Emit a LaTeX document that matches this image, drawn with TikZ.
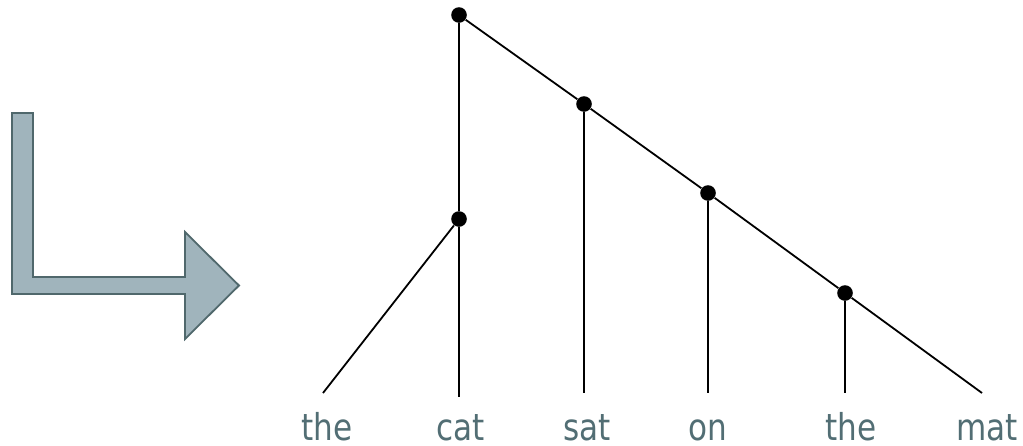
\documentclass[tikz,border=0pt]{standalone}
\usepackage{fontspec}
\setmainfont{DejaVu Sans}[FakeStretch=0.84]
\definecolor{wordcol}{RGB}{82,110,116}
\definecolor{arrowfill}{RGB}{160,180,188}
\definecolor{arrowline}{RGB}{80,104,108}
\tikzset{
  dot/.style={circle, fill=black, inner sep=0pt, minimum size=7.8pt},
  word/.style={anchor=base, text=wordcol, font=\fontsize{18.5}{20}\selectfont, inner sep=0pt},
  branch/.style={line width=0.9pt}
}
\begin{document}
\begin{tikzpicture}[x=0.5pt,y=-0.5pt]
    \useasboundingbox (0,0) rectangle (1023,445);
    \draw[fill=arrowfill, draw=arrowline, line width=0.9pt] (12,113) -- (33,113) -- (33,277) -- (185,277) -- (185,232)
        -- (239,285.5) -- (185,339) -- (185,294) -- (12,294) -- cycle;
    \node[dot] (top) at (459,15) {};
    \node[dot] (np) at (459,219) {};
    \node[dot] (vp) at (584,104) {};
    \node[dot] (pp) at (708,193) {};
    \node[dot] (np2) at (845,293) {};
    \coordinate (end1) at (323,393);
    \coordinate (end2) at (459,397);
    \coordinate (end3) at (584,393);
    \coordinate (end4) at (708,393);
    \coordinate (end5) at (845,393);
    \coordinate (end6) at (982,393);
    \draw[branch] (top) -- (np);
    \draw[branch] (np) -- (end1);
    \draw[branch] (np) -- (end2);
    \draw[branch] (top) -- (vp) -- (pp) -- (np2) -- (end6);
    \draw[branch] (vp) -- (end3);
    \draw[branch] (pp) -- (end4);
    \draw[branch] (np2) -- (end5);
    \node[word] (w1) at (327,440) {the};
    \node[word] (w2) at (461,440) {cat};
    \node[word] (w3) at (587,440) {sat};
    \node[word] (w4) at (708,440) {on};
    \node[word] (w5) at (851,440) {the};
    \node[word] (w6) at (987,440) {mat};
\end{tikzpicture}
\end{document}
